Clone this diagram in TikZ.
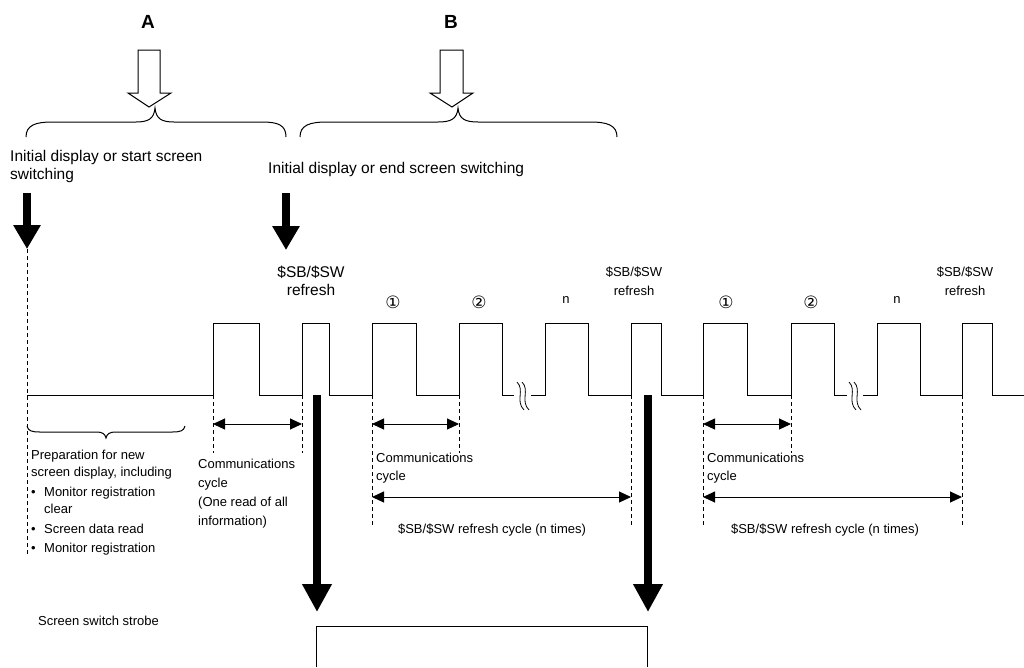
\documentclass[tikz,border=0pt]{standalone}
\usepackage{fontspec}
\setmainfont{Liberation Sans}
\newfontfamily\dvfont{DejaVu Sans}
\usetikzlibrary{arrows.meta}
\begin{document}
\begin{tikzpicture}[x=1pt,y=-1pt,
  wave/.style={line width=1pt, line join=miter},
  guide/.style={dash pattern=on 4pt off 3pt, line width=0.8pt},
  dim/.style={{Triangle[length=12pt,width=11pt]}-{Triangle[length=12pt,width=11pt]}, line width=1pt},
  bigarrow/.style={-{Triangle[length=24pt,width=26pt]}, line width=8pt},
  strobearrow/.style={-{Triangle[length=28pt,width=28pt]}, line width=8pt},
  hollow/.style={draw, fill=white, line width=1pt, line join=miter},
  brace/.style={line width=1pt},
  big/.style={font=\fontsize{15.5}{18}\selectfont, inner sep=0pt},
  small/.style={font=\fontsize{13}{18}\selectfont, inner sep=0pt},
  letter/.style={font=\fontsize{19}{22}\selectfont\bfseries, inner sep=0pt},
  circ/.style={font=\dvfont\fontsize{17}{19}\selectfont, inner sep=0pt},
  breakmark/.style={line width=0.8pt},
  ]
\useasboundingbox (0,0) rectangle (1024,667);

% ---- top labels, hollow arrows and braces
\node[letter] (A) at (148,22) {A};
\node[letter] (B) at (451,22) {B};
\draw[hollow] (138,50) -- (160,50) -- (160,93) -- (171,93) -- (149,107) -- (128,93) -- (138,93) -- cycle;
\draw[hollow] (440,50) -- (463,50) -- (463,93) -- (473,93) -- (452,107) -- (430,93) -- (440,93) -- cycle;

\draw[brace] (26,137) .. controls (26,125) and (36,122) .. (52,122) -- (136,122)
  .. controls (148,122) and (154,119) .. (155,108)
  .. controls (156,119) and (162,122) .. (174,122) -- (262,122)
  .. controls (278,122) and (286,125) .. (286,137);
\draw[brace] (300,137) .. controls (300,125) and (310,122) .. (327,122) -- (438,122)
  .. controls (451,122) and (457,119) .. (458,108)
  .. controls (459,119) and (465,122) .. (478,122) -- (590,122)
  .. controls (607,122) and (617,125) .. (617,137);

\node[big, anchor=west, align=left] (startlbl) at (10,166) {Initial display or start screen\\switching};
\node[big, anchor=west] (endlbl) at (268,169) {Initial display or end screen switching};

% ---- black arrows from the labels
\coordinate (s1) at (27,193);
\coordinate (s1tip) at (27,249);
\coordinate (s1end) at (27,555);
\draw[bigarrow] (s1) -- (s1tip);
\draw[guide] (s1tip) -- (s1end);
\coordinate (e1) at (286,193);
\coordinate (e1tip) at (286,250);
\draw[bigarrow] (e1) -- (e1tip);

% ---- labels above the pulses
\node[big, align=center] (r0) at (311,281) {\$SB/\$SW\\refresh};
\node[circ] (c11) at (393,302) {①};
\node[circ] (c12) at (479,302) {②};
\node[small] (n1) at (566,300) {n};
\node[small, align=center, font=\fontsize{13}{19}\selectfont] (r1) at (634,281) {\$SB/\$SW\\refresh};
\node[circ] (c21) at (726,302) {①};
\node[circ] (c22) at (811,302) {②};
\node[small] (n2) at (897,300) {n};
\node[small, align=center, font=\fontsize{13}{19}\selectfont] (r2) at (965,281) {\$SB/\$SW\\refresh};

% ---- waveform
\draw[wave] (27,395) -- (213,395) -- (213,323) -- (259,323) -- (259,395) -- (302,395)
  -- (302,323) -- (329,323) -- (329,395) -- (372,395) -- (372,323) -- (416,323)
  -- (416,395) -- (459,395) -- (459,323) -- (502,323) -- (502,395) -- (514,395);
\draw[wave] (531,395) -- (545,395) -- (545,323) -- (588,323) -- (588,395) -- (631,395)
  -- (631,323) -- (661,323) -- (661,395) -- (703,395) -- (703,323) -- (747,323)
  -- (747,395) -- (791,395) -- (791,323) -- (834,323) -- (834,395) -- (847,395);
\draw[wave] (863,395) -- (877,395) -- (877,323) -- (920,323) -- (920,395) -- (962,395)
  -- (962,323) -- (992,323) -- (992,395) -- (1024,395);
% break marks
\draw[breakmark] (517,382) .. controls (525,390) and (515,401) .. (524,410);
\draw[breakmark] (522,382) .. controls (530,390) and (520,401) .. (529,410);
\draw[breakmark] (849,382) .. controls (857,390) and (847,401) .. (856,410);
\draw[breakmark] (854,382) .. controls (862,390) and (852,401) .. (861,410);

% ---- guides below the pulses
\coordinate (g1) at (213,395); \coordinate (g1b) at (213,453);
\coordinate (g2) at (302,395); \coordinate (g2b) at (302,453);
\coordinate (g3) at (372,395); \coordinate (g3b) at (372,525);
\coordinate (g4) at (459,395); \coordinate (g4b) at (459,453);
\coordinate (g5) at (631,395); \coordinate (g5b) at (631,525);
\coordinate (g6) at (703,395); \coordinate (g6b) at (703,525);
\coordinate (g7) at (791,395); \coordinate (g7b) at (791,453);
\coordinate (g8) at (962,395); \coordinate (g8b) at (962,525);
\foreach \g in {1,...,8} { \draw[guide] (g\g) -- (g\g b); }

\draw[dim] (213,424) -- (302,424);
\draw[dim] (372,424) -- (459,424);
\draw[dim] (372,497) -- (631,497);
\draw[dim] (703,424) -- (791,424);
\draw[dim] (703,497) -- (962,497);

% preparation brace
\draw[brace] (27,426) .. controls (28,431) and (32,432) .. (40,432) -- (96,432)
  .. controls (103,432) and (105,434) .. (106,438)
  .. controls (107,434) and (109,432) .. (116,432) -- (172,432)
  .. controls (180,432) and (184,431) .. (185,426);

% ---- texts below
\node[small, anchor=north west, align=left, font=\fontsize{13}{17}\selectfont] (prep) at (31,450)
  {Preparation for new\\screen display, including\\[3pt]%
   \makebox[13pt][l]{\textbullet}Monitor registration\\\hspace*{13pt}clear\\[3pt]%
   \makebox[13pt][l]{\textbullet}Screen data read\\[2pt]%
   \makebox[13pt][l]{\textbullet}Monitor registration};
\node[small, anchor=north west, align=left, font=\fontsize{13}{19}\selectfont] (comm0) at (198,459)
  {Communications\\cycle\\(One read of all\\information)};
\node[small, anchor=north west, align=left] (comm1) at (376,453) {Communications\\cycle};
\node[small, anchor=north west, align=left] (comm2) at (707,453) {Communications\\cycle};
\node[small] (cyc1) at (492,530) {\$SB/\$SW refresh cycle (n times)};
\node[small] (cyc2) at (825,530) {\$SB/\$SW refresh cycle (n times)};

% ---- strobe
\coordinate (t1) at (317,395); \coordinate (t1tip) at (317,612);
\coordinate (t2) at (648,395); \coordinate (t2tip) at (648,612);
\draw[strobearrow] (t1) -- (t1tip);
\draw[strobearrow] (t2) -- (t2tip);
\draw[wave] (316,667) -- (316,626) -- (647,626) -- (647,667);
\node[small, anchor=west] (strobe) at (38,621) {Screen switch strobe};
\end{tikzpicture}
\end{document}
